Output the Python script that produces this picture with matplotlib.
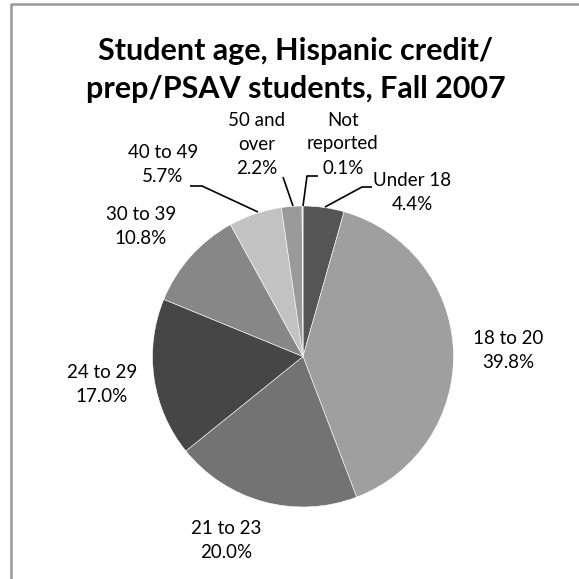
import matplotlib
matplotlib.use("Agg")
import matplotlib.pyplot as plt

# categories and shares (percent), clockwise from 12 o'clock
ages = ["Under 18", "18 to 20", "21 to 23", "24 to 29", "30 to 39",
        "40 to 49", "50 and\nover", "Not\nreported"]
shares = [4.4, 39.8, 20.0, 17.0, 10.8, 5.7, 2.2, 0.1]
greys = ["#555555", "#9f9f9f", "#737373", "#464646", "#878787",
         "#c2c2c2", "#9a9a9a", "#d9d9d9"]

# label centres in pixel coords (x, y from top)
label_pos = [(412, 193), (508, 350), (226, 540), (102, 385), (141, 226),
             (163, 164), (257, 144), (343, 144)]
# leader lines for the small slices
leaders = {
    0: [(372, 187), (362, 187), (325, 207)],
    5: [(190, 186), (202, 186), (258, 212)],
    6: [(283, 177), (293, 206)],
    7: [(318, 176), (307, 176), (303, 206)],
}

W = 579
fig = plt.figure(figsize=(5.79, 5.79), dpi=100)
ax = fig.add_axes([0, 0, 1, 1])

cx, cy, r = 303, 356.5, 150.5
ax.pie(shares, colors=greys, startangle=-90, counterclock=True,
       center=(cx, cy), radius=r,
       wedgeprops=dict(edgecolor="white", linewidth=0.4))

ax.set_xlim(0, W)
ax.set_ylim(W, 0)
ax.set_aspect("equal")
ax.axis("off")

font = "Lato"
for name, val, (x, y) in zip(ages, shares, label_pos):
    ax.text(x, y, f"{name}\n{val:.1f}%", ha="center", va="center",
            fontsize=13.5, family=font, linespacing=1.5, color="black")

for pts in leaders.values():
    xs, ys = zip(*pts)
    ax.plot(xs, ys, color="black", lw=1.2, solid_capstyle="butt")

ax.text(296, 70, "Student age, Hispanic credit/\nprep/PSAV students, Fall 2007",
        ha="center", va="center", fontsize=22, fontweight="bold",
        family=font, linespacing=1.42)

# chart frame (only left and top edges visible)
ax.plot([11, 11, 590], [600, 4, 4], color="#999999", lw=1.8, clip_on=False)

fig.savefig("out.png", dpi=100)
